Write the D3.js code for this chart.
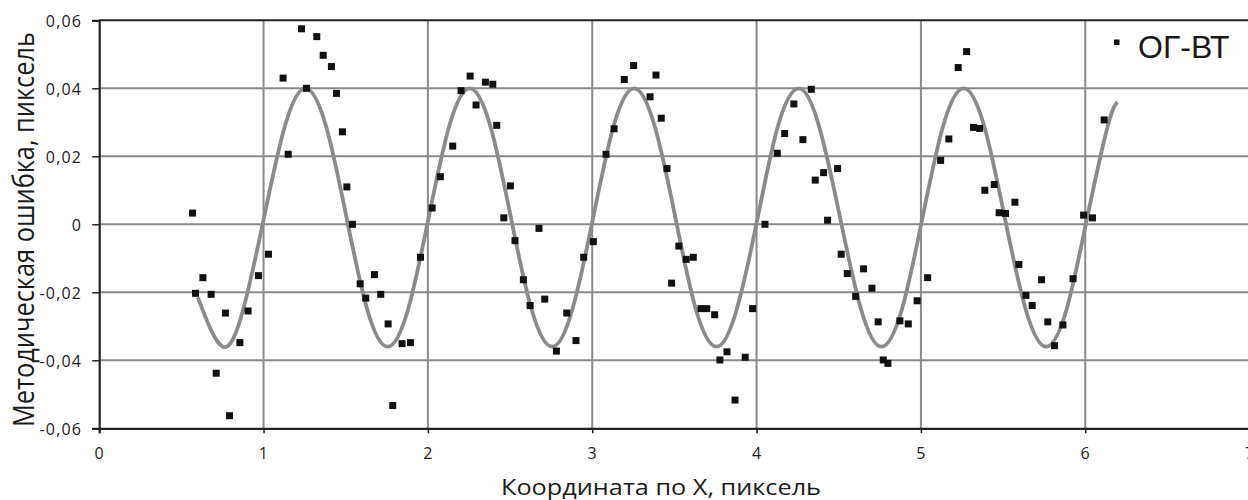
<html>
<head>
<meta charset="utf-8">
<script src="https://d3js.org/d3.v7.min.js"></script>
<style>
    body { margin: 0; background: #fff; }
    svg { display: block; }
</style>
</head>
<body>
<svg width="1248" height="500"></svg>
<script>

// measured points (ОГ-ВТ)
var errX = [0.568, 0.586, 0.631, 0.681, 0.712, 0.768, 0.793, 0.856, 0.906, 0.969, 1.030,
    1.119, 1.150, 1.231, 1.261, 1.324, 1.363, 1.413, 1.444, 1.480, 1.507, 1.541, 1.588,
    1.622, 1.675, 1.713, 1.758, 1.786, 1.843, 1.894, 1.955, 2.026, 2.076, 2.151, 2.202,
    2.257, 2.293, 2.350, 2.395, 2.419, 2.462, 2.502, 2.530, 2.581, 2.622, 2.676, 2.711,
    2.782, 2.845, 2.901, 2.948, 3.007, 3.084, 3.133, 3.195, 3.252, 3.352, 3.388, 3.420,
    3.455, 3.483, 3.527, 3.572, 3.615, 3.662, 3.697, 3.745, 3.777, 3.820, 3.869, 3.931,
    3.976, 4.051, 4.126, 4.171, 4.227, 4.282, 4.333, 4.357, 4.408, 4.432, 4.493, 4.515,
    4.552, 4.603, 4.651, 4.702, 4.740, 4.771, 4.799, 4.872, 4.923, 4.977, 5.041, 5.120,
    5.170, 5.227, 5.278, 5.320, 5.357, 5.389, 5.446, 5.476, 5.515, 5.572, 5.596, 5.639,
    5.677, 5.734, 5.772, 5.813, 5.864, 5.926, 5.990, 6.044, 6.115];
var errY = [0.0033, -0.0203, -0.0157, -0.0206, -0.0438, -0.0261, -0.0563, -0.0348, -0.0255, -0.0151, -0.0088,
    0.0430, 0.0206, 0.0575, 0.0400, 0.0552, 0.0497, 0.0464, 0.0385, 0.0272, 0.0110, 0.0000, -0.0175,
    -0.0217, -0.0148, -0.0206, -0.0293, -0.0533, -0.0351, -0.0348, -0.0097, 0.0048, 0.0140, 0.0230, 0.0393,
    0.0436, 0.0351, 0.0418, 0.0412, 0.0291, 0.0019, 0.0113, -0.0048, -0.0163, -0.0239, -0.0012, -0.0220,
    -0.0373, -0.0261, -0.0342, -0.0097, -0.0051, 0.0206, 0.0281, 0.0426, 0.0467, 0.0375, 0.0439, 0.0312,
    0.0164, -0.0173, -0.0064, -0.0103, -0.0097, -0.0248, -0.0248, -0.0266, -0.0399, -0.0375, -0.0517, -0.0391,
    -0.0248, 0.0000, 0.0209, 0.0267, 0.0354, 0.0249, 0.0397, 0.0130, 0.0152, 0.0012, 0.0164, -0.0088,
    -0.0145, -0.0212, -0.0131, -0.0188, -0.0287, -0.0399, -0.0409, -0.0284, -0.0293, -0.0225, -0.0157, 0.0188,
    0.0251, 0.0461, 0.0508, 0.0285, 0.0282, 0.0100, 0.0117, 0.0034, 0.0032, 0.0065, -0.0118, -0.0209,
    -0.0239, -0.0163, -0.0287, -0.0357, -0.0296, -0.0160, 0.0027, 0.0019, 0.0307];

// fitted curve
var fitX = [0.600, 0.752, 0.877, 1.003, 1.130, 1.255, 1.380, 1.505, 1.630, 1.755, 1.880,
    2.005, 2.130, 2.255, 2.380, 2.505, 2.630, 2.757, 2.880, 3.006, 3.130, 3.255, 3.380,
    3.506, 3.630, 3.757, 3.880, 4.007, 4.130, 4.257, 4.380, 4.508, 4.635, 4.760, 4.885,
    5.010, 5.135, 5.260, 5.385, 5.510, 5.637, 5.762, 5.887, 6.012, 6.137, 6.196];
var fitY = [-0.0215, -0.036, -0.0249, 0.002, 0.0289, 0.040, 0.0289, 0.002, -0.0249, -0.036, -0.0249,
    0.002, 0.0289, 0.040, 0.0289, 0.002, -0.0249, -0.036, -0.0249, 0.002, 0.0289, 0.040, 0.0289,
    0.002, -0.0249, -0.036, -0.0249, 0.002, 0.0289, 0.040, 0.0289, 0.002, -0.0249, -0.036, -0.0249,
    0.002, 0.0289, 0.040, 0.0289, 0.002, -0.0249, -0.036, -0.0249, 0.002, 0.0289, 0.0359];

var xTicks = [0, 1, 2, 3, 4, 5, 6, 7];
var yTicks = [-0.06, -0.04, -0.02, 0, 0.02, 0.04, 0.06];
var seriesName = "ОГ-ВТ";
var xTitle = "Координата по X, пиксель";
var yTitle = "Методическая ошибка, пиксель";

var plotL = 99.2, plotR = 1249.6, plotT = 20.3, plotB = 428.3;

var x = d3.scaleLinear().domain([0, 7]).range([plotL, plotR]);
var y = d3.scaleLinear().domain([-0.06, 0.06]).range([plotB, plotT]);

var ru = d3.formatLocale({decimal: ",", thousands: " ", grouping: [3], currency: ["", ""], minus: "-"});
var fmt = function(d) { return d === 0 ? "0" : ru.format(".2f")(d); };

var svg = d3.select("svg");

// grid
svg.append("g")
    .selectAll("line")
    .data(yTicks.filter(function(d) { return d > -0.06 && d < 0.06; }))
    .enter().append("line")
    .attr("x1", plotL).attr("x2", plotR)
    .attr("y1", function(d) { return y(d); })
    .attr("y2", function(d) { return y(d); })
    .attr("stroke", "#8a8a8a").attr("stroke-width", 2);

svg.append("g")
    .selectAll("line")
    .data(xTicks.filter(function(d) { return d > 0; }))
    .enter().append("line")
    .attr("x1", function(d) { return x(d); })
    .attr("x2", function(d) { return x(d); })
    .attr("y1", plotT).attr("y2", plotB)
    .attr("stroke", "#8a8a8a").attr("stroke-width", 2);

// frame top
svg.append("line")
    .attr("x1", plotL).attr("x2", plotR).attr("y1", plotT).attr("y2", plotT)
    .attr("stroke", "#222").attr("stroke-width", 2);

// axes
var yAxis = svg.append("g")
    .attr("transform", "translate(" + plotL + ",0)")
    .call(d3.axisLeft(y).tickValues(yTicks).tickFormat(fmt).tickSize(7).tickPadding(10));
var xAxis = svg.append("g")
    .attr("transform", "translate(0," + plotB + ")")
    .call(d3.axisBottom(x).tickValues(xTicks).tickFormat(d3.format("d")).tickSize(5).tickPadding(14));

[yAxis, xAxis].forEach(function(a) {
    a.select(".domain").attr("stroke", "#222").attr("stroke-width", 2.2);
    a.selectAll(".tick line").attr("stroke", "#222").attr("stroke-width", 1.5);
    a.selectAll(".tick text")
        .attr("font-family", "Open Sans, sans-serif")
        .attr("font-size", 16)
        .attr("letter-spacing", "1.2px")
        .attr("fill", "#222");
});
yAxis.selectAll(".tick text").attr("dy", "0.36em");

// fitted curve
var fit = fitX.map(function(d, i) { return [d, fitY[i]]; });
svg.append("path")
    .datum(fit)
    .attr("fill", "none")
    .attr("stroke", "#8b8b8b")
    .attr("stroke-width", 3.8)
    .attr("d", d3.line()
        .x(function(d) { return x(d[0]); })
        .y(function(d) { return y(d[1]); })
        .curve(d3.curveNatural));

// points
var pts = errX.map(function(d, i) { return [d, errY[i]]; });
var sq = 7;
svg.append("g")
    .selectAll("rect")
    .data(pts)
    .enter().append("rect")
    .attr("x", function(d) { return x(d[0]) - sq / 2; })
    .attr("y", function(d) { return y(d[1]) - sq / 2; })
    .attr("width", sq).attr("height", sq)
    .attr("fill", "#111");

// legend
svg.append("rect").attr("x", 1114).attr("y", 39.5).attr("width", 5.5).attr("height", 5.5).attr("fill", "#111");
svg.append("text")
    .attr("x", 1138).attr("y", 58.3)
    .attr("font-family", "Liberation Sans, Arial, sans-serif")
    .attr("font-size", 32)
    .attr("fill", "#1a1a1a")
    .text(seriesName);

// titles
svg.append("text")
    .attr("x", 661).attr("y", 495)
    .attr("text-anchor", "middle")
    .attr("font-family", "Open Sans, sans-serif")
    .attr("font-size", 22)
    .attr("textLength", 320)
    .attr("lengthAdjust", "spacingAndGlyphs")
    .attr("fill", "#1a1a1a")
    .text(xTitle);

svg.append("text")
    .attr("transform", "translate(34,229.5) rotate(-90)")
    .attr("text-anchor", "middle")
    .attr("font-family", "Open Sans, sans-serif")
    .attr("font-size", 29)
    .attr("textLength", 395)
    .attr("lengthAdjust", "spacingAndGlyphs")
    .attr("fill", "#1a1a1a")
    .text(yTitle);

</script>
</body>
</html>
